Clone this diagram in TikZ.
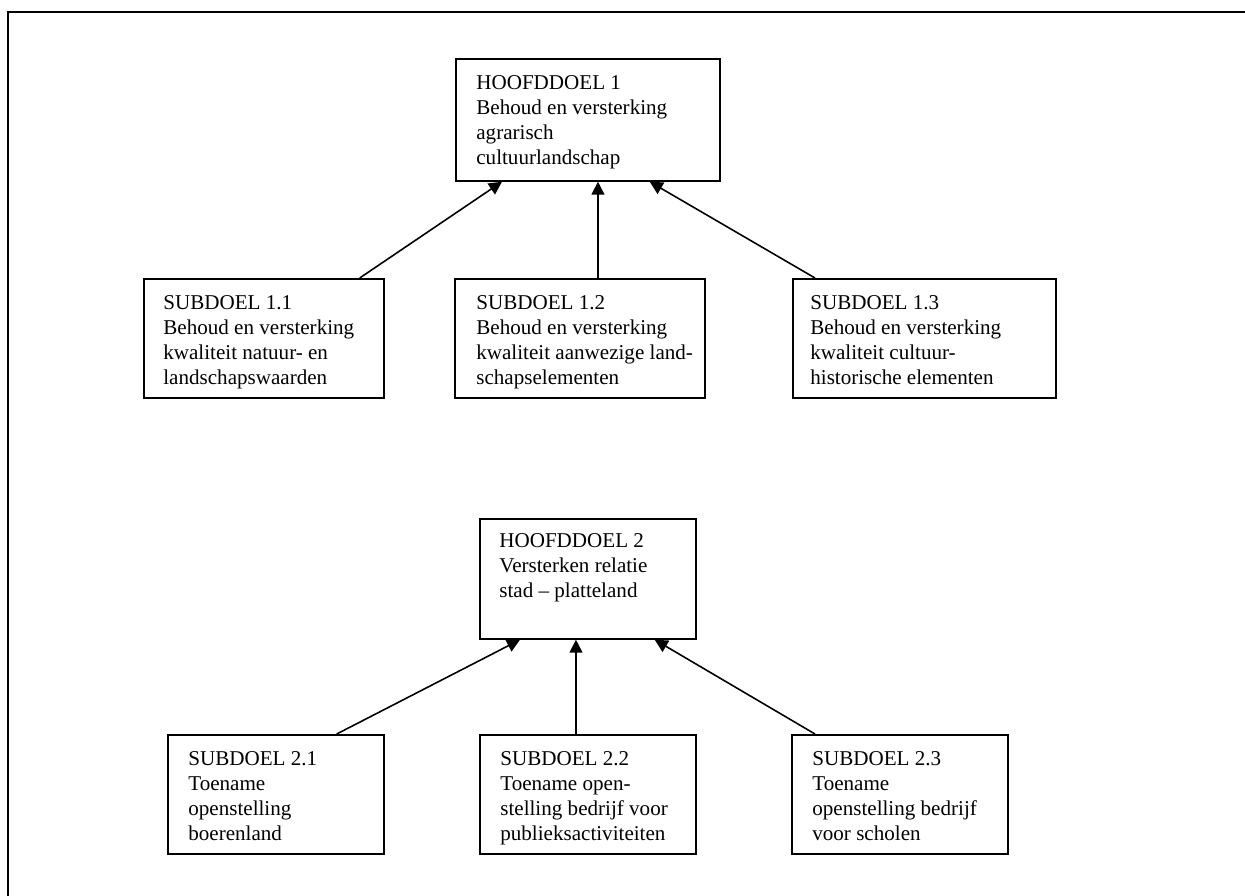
\documentclass[tikz,border=0pt]{standalone}
\usepackage{fontspec}
\setmainfont{Liberation Serif}
\usetikzlibrary{arrows.meta, positioning, calc}

\begin{document}
\begin{tikzpicture}[x=0.02cm, y=-0.02cm,
    doel/.style={draw=black, line width=1pt, anchor=north west, inner sep=0pt},
    doeltekst/.style={inner sep=0pt, align=left, font=\fontsize{12}{14.2}\selectfont},
    pijl/.style={draw=black, line width=0.9pt, -{Triangle[length=0.26cm, width=0.26cm]}}]
  \useasboundingbox (0,0) rectangle (1245,896);

  % Frame (only top and left edge visible)
  \draw[line width=1.2pt] (8,896) -- (8,12) -- (1245,12);

  % Hoofddoel 1
  \node[doel, minimum width=5.28cm, minimum height=2.44cm] (h1) at (455,58) {};
  \node[doeltekst, below right=0.34cm and 0.42cm of h1.north west] (h1tekst)
       {HOOFDDOEL 1\\Behoud en versterking\\agrarisch\\cultuurlandschap};

  % Subdoelen 1
  \node[doel, minimum width=4.8cm, minimum height=2.38cm] (s11) at (143,278) {};
  \node[doeltekst, below right=0.34cm and 0.4cm of s11.north west] (s11tekst)
       {SUBDOEL 1.1\\Behoud en versterking\\kwaliteit natuur- en\\landschapswaarden};

  \node[doel, minimum width=5.0cm, minimum height=2.38cm] (s12) at (454,278) {};
  \node[doeltekst, below right=0.34cm and 0.44cm of s12.north west] (s12tekst)
       {SUBDOEL 1.2\\Behoud en versterking\\kwaliteit aanwezige land-\\schapselementen};

  \node[doel, minimum width=5.26cm, minimum height=2.38cm] (s13) at (792,278) {};
  \node[doeltekst, below right=0.34cm and 0.36cm of s13.north west] (s13tekst)
       {SUBDOEL 1.3\\Behoud en versterking\\kwaliteit cultuur-\\historische elementen};

  % Pijlen naar hoofddoel 1
  \coordinate (s12top) at ([xshift=2.88cm]s12.north west);
  \draw[pijl] ([xshift=-0.5cm]s11.north east) -- ([xshift=0.94cm]h1.south west);
  \draw[pijl] (s12top) -- (s12top |- h1.south);
  \draw[pijl] ([xshift=0.46cm]s13.north west) -- ([xshift=-1.42cm]h1.south east);

  % Hoofddoel 2
  \node[doel, minimum width=4.32cm, minimum height=2.4cm] (h2) at (479,518) {};
  \node[doeltekst, below right=0.3cm and 0.4cm of h2.north west] (h2tekst)
       {HOOFDDOEL 2\\Versterken relatie\\stad – platteland};

  % Subdoelen 2
  \node[doel, minimum width=4.32cm, minimum height=2.38cm] (s21) at (167,734) {};
  \node[doeltekst, below right=0.34cm and 0.42cm of s21.north west] (s21tekst)
       {SUBDOEL 2.1\\Toename\\openstelling\\boerenland};

  \node[doel, minimum width=4.32cm, minimum height=2.38cm] (s22) at (479,734) {};
  \node[doeltekst, below right=0.34cm and 0.42cm of s22.north west] (s22tekst)
       {SUBDOEL 2.2\\Toename open-\\stelling bedrijf voor\\publieksactiviteiten};

  \node[doel, minimum width=4.32cm, minimum height=2.38cm] (s23) at (791,734) {};
  \node[doeltekst, below right=0.34cm and 0.42cm of s23.north west] (s23tekst)
       {SUBDOEL 2.3\\Toename\\openstelling bedrijf\\voor scholen};

  % Pijlen naar hoofddoel 2
  \coordinate (s22top) at ([xshift=1.94cm]s22.north west);
  \draw[pijl] ([xshift=-0.96cm]s21.north east) -- ([xshift=0.82cm]h2.south west);
  \draw[pijl] (s22top) -- (s22top |- h2.south);
  \draw[pijl] ([xshift=0.48cm]s23.north west) -- ([xshift=-0.84cm]h2.south east);
\end{tikzpicture}
\end{document}
